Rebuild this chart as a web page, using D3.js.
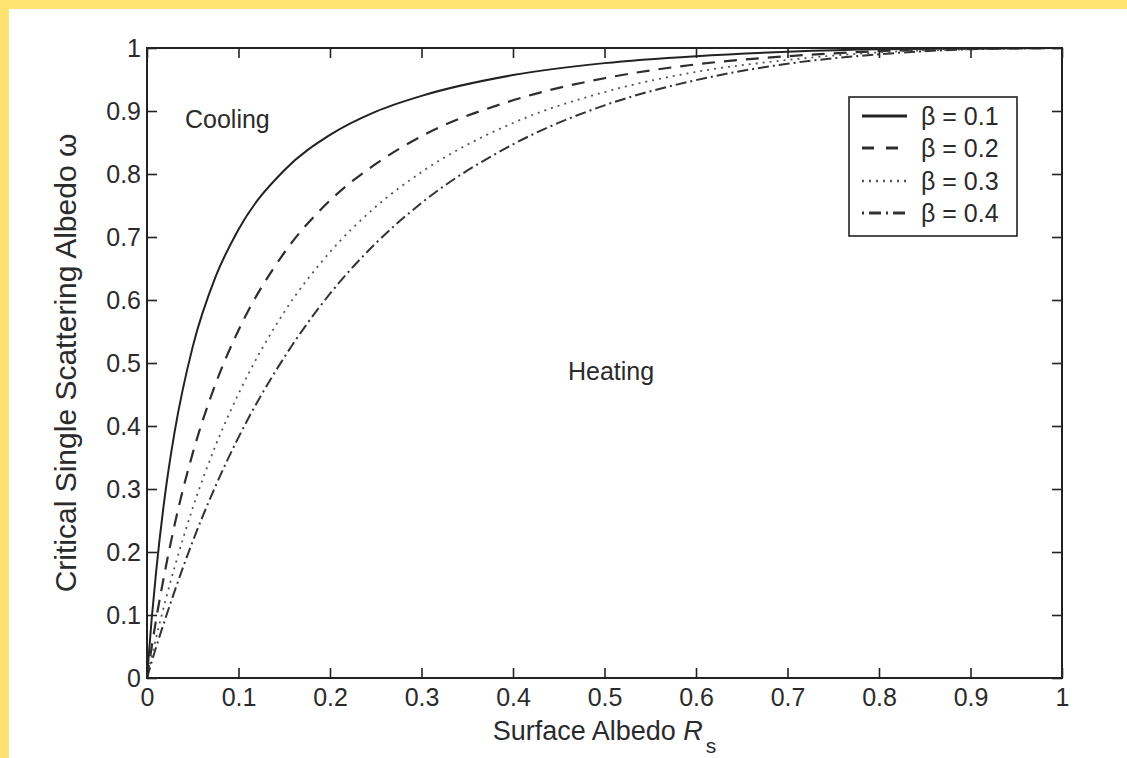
<!DOCTYPE html>
<html>
<head>
<meta charset="utf-8">
<script src="https://cdn.jsdelivr.net/npm/d3@7"></script>
<style>
  html, body { margin: 0; padding: 0; background: #fff; }
  svg { display: block; }
  text { font-family: "Liberation Sans", Arial, Helvetica, sans-serif; fill: #2b2b2b; }
</style>
</head>
<body>
<div id="viz"></div>
<script>
const WIDTH = 1127;
const HEIGHT = 758;
const PLOT = { left: 147, right: 1062, top: 48, bottom: 678 };
const TICK_LEN = 10;
const INK = "#222";

// surface albedo samples and critical single scattering albedo
const rsValues = [0, 0.005, 0.01, 0.02, 0.03, 0.05, 0.075, 0.1, 0.15, 0.2, 0.25, 0.3, 0.4, 0.5, 0.6, 0.7, 0.8, 0.9, 1];
const omegaBeta01 = [0, 0.092, 0.169, 0.294, 0.389, 0.526, 0.637, 0.712, 0.806, 0.862, 0.899, 0.924, 0.957, 0.976, 0.987, 0.994, 0.998, 0.999, 1];
const omegaBeta02 = [0, 0.048, 0.093, 0.172, 0.242, 0.357, 0.467, 0.552, 0.675, 0.758, 0.816, 0.860, 0.917, 0.952, 0.974, 0.987, 0.995, 0.999, 1];
const omegaBeta03 = [0, 0.033, 0.064, 0.122, 0.175, 0.270, 0.369, 0.451, 0.581, 0.676, 0.748, 0.803, 0.881, 0.930, 0.962, 0.981, 0.993, 0.998, 1];
const omegaBeta04 = [0, 0.025, 0.049, 0.094, 0.137, 0.217, 0.305, 0.382, 0.509, 0.610, 0.690, 0.754, 0.847, 0.909, 0.949, 0.975, 0.990, 0.998, 1];

const seriesLabels = ["\u03b2 = 0.1", "\u03b2 = 0.2", "\u03b2 = 0.3", "\u03b2 = 0.4"];
const seriesValues = [omegaBeta01, omegaBeta02, omegaBeta03, omegaBeta04];
const seriesDash = [null, "13,9", "2,5", "11,4,2,4"];
const seriesStroke = ["#222", "#2e2e2e", "#555", "#333"];
const seriesWidth = [2, 2.2, 1.8, 2];

const tickValues = [0, 0.1, 0.2, 0.3, 0.4, 0.5, 0.6, 0.7, 0.8, 0.9, 1];
const tickLabels = ["0", "0.1", "0.2", "0.3", "0.4", "0.5", "0.6", "0.7", "0.8", "0.9", "1"];

const svg = d3.select("#viz").append("svg")
  .attr("width", WIDTH)
  .attr("height", HEIGHT);

// yellow page frame (top and left only)
svg.append("rect").attr("x", 0).attr("y", 0).attr("width", WIDTH).attr("height", 9).attr("fill", "#fee272");
svg.append("rect").attr("x", 0).attr("y", 0).attr("width", 9).attr("height", HEIGHT).attr("fill", "#fee272");

const x = d3.scaleLinear().domain([0, 1]).range([PLOT.left, PLOT.right]);
const y = d3.scaleLinear().domain([0, 1]).range([PLOT.bottom, PLOT.top]);

svg.append("clipPath").attr("id", "plot-clip")
  .append("rect")
  .attr("x", PLOT.left).attr("y", PLOT.top - 2)
  .attr("width", PLOT.right - PLOT.left).attr("height", PLOT.bottom - PLOT.top + 2);

const line = d3.line()
  .x(d => x(d[0]))
  .y(d => y(d[1]))
  .curve(d3.curveMonotoneX);

const curves = svg.append("g").attr("clip-path", "url(#plot-clip)");
seriesValues.forEach((vals, i) => {
  curves.append("path")
    .datum(rsValues.map((r, j) => [r, vals[j]]))
    .attr("d", line)
    .attr("fill", "none")
    .attr("stroke", seriesStroke[i])
    .attr("stroke-width", seriesWidth[i])
    .attr("stroke-dasharray", seriesDash[i]);
});

// box axes with inward ticks on all four sides
const fmt = d => tickLabels[tickValues.indexOf(d)];

function styleAxis(g) {
  g.select(".domain").remove();
  g.selectAll(".tick line").attr("stroke", INK).attr("stroke-width", 1.6);
  g.selectAll(".tick text")
    .style("font-family", "\"Liberation Sans\", Arial, sans-serif")
    .style("font-size", "25px")
    .attr("fill", "#2b2b2b");
}

svg.append("g")
  .attr("transform", `translate(0,${PLOT.bottom})`)
  .call(d3.axisBottom(x).tickValues(tickValues).tickFormat(fmt).tickSizeInner(-TICK_LEN).tickSizeOuter(0).tickPadding(10))
  .call(styleAxis);

svg.append("g")
  .attr("transform", `translate(0,${PLOT.top})`)
  .call(d3.axisTop(x).tickValues(tickValues).tickFormat("").tickSizeInner(-TICK_LEN).tickSizeOuter(0))
  .call(styleAxis);

svg.append("g")
  .attr("transform", `translate(${PLOT.left},0)`)
  .call(d3.axisLeft(y).tickValues(tickValues).tickFormat(fmt).tickSizeInner(-TICK_LEN).tickSizeOuter(0).tickPadding(6))
  .call(styleAxis);

svg.append("g")
  .attr("transform", `translate(${PLOT.right},0)`)
  .call(d3.axisRight(y).tickValues(tickValues).tickFormat("").tickSizeInner(-TICK_LEN).tickSizeOuter(0))
  .call(styleAxis);

svg.append("rect")
  .attr("x", PLOT.left).attr("y", PLOT.top)
  .attr("width", PLOT.right - PLOT.left).attr("height", PLOT.bottom - PLOT.top)
  .attr("fill", "none")
  .attr("stroke", INK)
  .attr("stroke-width", 2);

// axis titles
const xTitle = svg.append("text")
  .attr("x", (PLOT.left + PLOT.right) / 2)
  .attr("y", 740)
  .attr("text-anchor", "middle")
  .style("font-size", "27px");
xTitle.append("tspan").text("Surface Albedo ");
xTitle.append("tspan").attr("font-style", "italic").text("R");
xTitle.append("tspan").attr("dx", 3).attr("dy", 13).style("font-size", "21px").text("s");

svg.append("text")
  .attr("transform", `translate(76,${(PLOT.top + PLOT.bottom) / 2}) rotate(-90)`)
  .attr("text-anchor", "middle")
  .style("font-size", "30px")
  .text("Critical Single Scattering Albedo \u03c9");

// region annotations
svg.append("text").attr("x", 185).attr("y", 128).style("font-size", "25px").text("Cooling");
svg.append("text").attr("x", 568).attr("y", 380).style("font-size", "25px").text("Heating");

// legend
const legend = svg.append("g");
legend.append("rect")
  .attr("x", 849).attr("y", 97)
  .attr("width", 168).attr("height", 139)
  .attr("fill", "#fff")
  .attr("stroke", INK)
  .attr("stroke-width", 1.6);

const legendBaselines = [125, 157, 190, 222];
const legendDash = [null, "12,12", "2,5", "2,5,12,5"];
seriesLabels.forEach((label, i) => {
  const by = legendBaselines[i];
  legend.append("line")
    .attr("x1", 862).attr("x2", 907)
    .attr("y1", by - 9).attr("y2", by - 9)
    .attr("stroke", seriesStroke[i])
    .attr("stroke-width", seriesWidth[i] + 0.8)
    .attr("stroke-dasharray", legendDash[i]);
  legend.append("text")
    .attr("x", 921).attr("y", by)
    .style("font-size", "25px")
    .text(label);
});
</script>
</body>
</html>
